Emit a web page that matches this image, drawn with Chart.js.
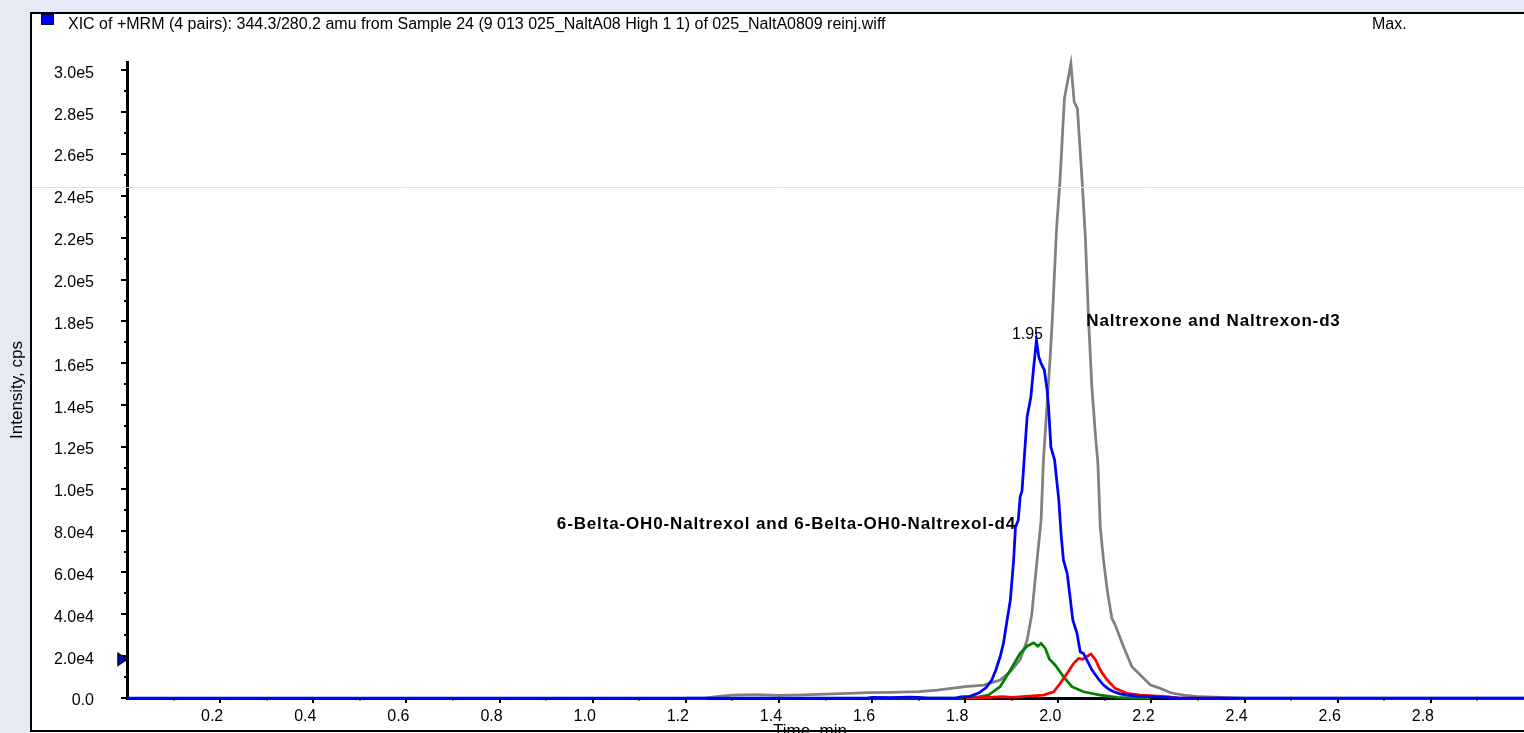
<!DOCTYPE html>
<html>
<head>
<meta charset="utf-8">
<title>XIC of +MRM</title>
<script src="https://cdn.jsdelivr.net/npm/chart.js@4.4.0/dist/chart.umd.min.js"></script>
<style>
  html, body { margin: 0; padding: 0; background: #e7eaf4; }
  canvas { display: block; }
</style>
</head>
<body>
<canvas id="xic" width="1524" height="733"></canvas>
<script>
// retention time (min) / intensity (cps) for the four MRM pairs
const naltrexolTime = [0.00, 0.50, 1.00, 1.50, 1.59, 1.60, 1.64, 1.68, 1.70, 1.72,
  1.78, 1.79, 1.81, 1.83, 1.845, 1.857, 1.866, 1.875, 1.882, 1.890,
  1.897, 1.904, 1.908, 1.914, 1.918, 1.922, 1.929, 1.933, 1.941, 1.947,
  1.953, 1.958, 1.963, 1.970, 1.976, 1.979, 1.984, 1.992, 2.001, 2.006,
  2.011, 2.019, 2.026, 2.031, 2.040, 2.047, 2.054, 2.065, 2.072, 2.080,
  2.088, 2.097, 2.108, 2.119, 2.133, 2.148, 2.170, 2.198, 2.230, 2.260,
  2.50, 3.00];
const naltrexolCps = [0, 0, 0, 0, 0, 300, 200, 400, 300, 0,
  0, 500, 800, 2500, 5000, 8600, 13500, 19700, 26000, 37300,
  46800, 65900, 81800, 85000, 96200, 99000, 121700, 134400, 143900, 158000,
  171000, 163000, 159900, 156700, 147100, 139000, 120000, 113700, 94600, 78000,
  65900, 59600, 46800, 37300, 31000, 22100, 21300, 16600, 13500, 11000,
  8500, 6200, 4300, 3000, 2000, 1400, 900, 600, 300, 0,
  0, 0];

const naltrexoneTime = [1.20, 1.24, 1.27, 1.30, 1.35, 1.40, 1.45, 1.50, 1.55, 1.59,
  1.64, 1.70, 1.74, 1.77, 1.80, 1.84, 1.875, 1.897, 1.918, 1.933,
  1.943, 1.953, 1.963, 1.968, 1.976, 1.983, 1.987, 1.996, 2.004, 2.013,
  2.027, 2.034, 2.041, 2.051, 2.058, 2.065, 2.072, 2.080, 2.085, 2.090,
  2.097, 2.105, 2.115, 2.122, 2.140, 2.158, 2.176, 2.198, 2.219, 2.241,
  2.269, 2.305, 2.35, 2.40, 3.00];
const naltrexoneCps = [0, 0, 800, 1400, 1600, 1300, 1500, 1800, 2200, 2600,
  2700, 3000, 3800, 4600, 5400, 6200, 8600, 12600, 18200, 27700,
  40000, 63000, 85000, 113700, 140800, 164700, 180600, 223600, 249000, 286500,
  303200, 284900, 281700, 247400, 220400, 180600, 148700, 124800, 112100, 81800,
  66000, 51600, 38000, 35000, 24500, 15000, 11000, 6200, 4600, 2500,
  1400, 600, 300, 0, 0];

const naltrexolD4Time = [1.59, 1.80, 1.83, 1.85, 1.875, 1.897, 1.918, 1.933, 1.947, 1.956,
  1.963, 1.972, 1.981, 1.993, 2.011, 2.029, 2.054, 2.090, 2.126, 2.16, 2.20];
const naltrexolD4Cps = [0, 0, 500, 1400, 5400, 13400, 21300, 24800, 26400, 24800,
  26100, 23700, 18500, 15800, 10200, 5400, 3000, 1400, 300, 0, 0];

const naltrexoneD3Time = [1.80, 1.85, 1.88, 1.90, 1.93, 1.968, 1.990, 2.004, 2.019, 2.033,
  2.044, 2.052, 2.063, 2.070, 2.080, 2.090, 2.105, 2.122, 2.148, 2.176, 2.233, 2.26, 2.35];
const naltrexoneD3Cps = [0, 300, 600, 300, 800, 1400, 3000, 7000, 11800, 16600,
  19000, 18500, 20100, 21000, 18200, 13400, 8600, 4600, 2200, 1400, 600, 0, 0];

// axis ticks
const xMajorTicks = [0.2, 0.4, 0.6, 0.8, 1.0, 1.2, 1.4, 1.6, 1.8, 2.0, 2.2, 2.4, 2.6, 2.8];
const xMinorTicks = [0.1, 0.3, 0.5, 0.7, 0.9, 1.1, 1.3, 1.5, 1.7, 1.9, 2.1, 2.3, 2.5, 2.7, 2.9];
const yMajorTicks = [0, 20000, 40000, 60000, 80000, 100000, 120000, 140000, 160000,
  180000, 200000, 220000, 240000, 260000, 280000, 300000];
const yMinorTicks = [10000, 30000, 50000, 70000, 90000, 110000, 130000, 150000,
  170000, 190000, 210000, 230000, 250000, 270000, 290000];

const titleText = 'XIC of +MRM (4 pairs): 344.3/280.2 amu from Sample 24 (9 013 025_NaltA08 High 1 1) of 025_NaltA0809 reinj.wiff';
const naltrexoneLabel = 'Naltrexone and Naltrexon-d3';
const naltrexolLabel = '6-Belta-OH0-Naltrexol and 6-Belta-OH0-Naltrexol-d4';
const thresholdLevel = 18500;

const FONT = '"Liberation Sans", Arial, sans-serif';

function points(t, v) {
  return t.map((x, i) => ({ x: x, y: v[i] }));
}

// background, panel frame, header text, tick marks and peak annotations
const decor = {
  id: 'decor',
  beforeDraw(chart) {
    const ctx = chart.ctx;
    ctx.save();
    ctx.fillStyle = '#e7eaf4';
    ctx.fillRect(0, 0, chart.width, chart.height);
    ctx.fillStyle = '#ffffff';
    ctx.fillRect(31, 13, chart.width - 31, chart.height - 13);
    ctx.restore();
  },
  afterDraw(chart) {
    const { ctx, scales: { x, y }, chartArea } = chart;
    ctx.save();

    // tick marks, long for labelled ticks
    ctx.strokeStyle = '#000';
    ctx.lineWidth = 2;
    ctx.beginPath();
    xMajorTicks.forEach(v => {
      const px = Math.round(x.getPixelForValue(v));
      ctx.moveTo(px, chartArea.bottom); ctx.lineTo(px, chartArea.bottom + 5);
    });
    xMinorTicks.forEach(v => {
      const px = Math.round(x.getPixelForValue(v));
      ctx.moveTo(px, chartArea.bottom); ctx.lineTo(px, chartArea.bottom + 2.5);
    });
    yMajorTicks.forEach(v => {
      const py = Math.round(y.getPixelForValue(v));
      ctx.moveTo(chartArea.left - 6, py); ctx.lineTo(chartArea.left, py);
    });
    yMinorTicks.forEach(v => {
      const py = Math.round(y.getPixelForValue(v));
      ctx.moveTo(chartArea.left - 3, py); ctx.lineTo(chartArea.left, py);
    });
    ctx.stroke();

    // threshold marker on the intensity axis
    const ty = y.getPixelForValue(thresholdLevel);
    ctx.beginPath();
    ctx.moveTo(chartArea.left - 9, ty - 6);
    ctx.lineTo(chartArea.left, ty);
    ctx.lineTo(chartArea.left - 9, ty + 6);
    ctx.closePath();
    ctx.fillStyle = '#0000ff';
    ctx.fill();
    ctx.lineWidth = 1.5;
    ctx.strokeStyle = '#000';
    ctx.stroke();

    // faint separator line
    ctx.strokeStyle = '#dcdff0';
    ctx.lineWidth = 1;
    ctx.beginPath();
    ctx.moveTo(31, 187.5); ctx.lineTo(chart.width, 187.5);
    ctx.stroke();

    // header
    ctx.fillStyle = '#0000ff';
    ctx.fillRect(41, 14, 13, 11);
    ctx.strokeStyle = '#000066';
    ctx.lineWidth = 1;
    ctx.strokeRect(41.5, 14.5, 12, 10);
    ctx.fillStyle = '#000';
    ctx.font = '16px ' + FONT;
    ctx.textBaseline = 'middle';
    ctx.textAlign = 'left';
    ctx.fillText(titleText, 68, 25);
    ctx.fillText('Max.', 1372, 25);

    // axis titles
    ctx.font = '17px ' + FONT;
    ctx.textAlign = 'center';
    ctx.fillText('Time, min', 810, 731);
    ctx.save();
    ctx.translate(17, 390);
    ctx.rotate(-Math.PI / 2);
    ctx.fillText('Intensity, cps', 0, 0);
    ctx.restore();

    // apex retention time of the main trace
    ctx.font = '16px ' + FONT;
    let k = 0;
    naltrexolCps.forEach((v, i) => { if (v > naltrexolCps[k]) k = i; });
    const apx = x.getPixelForValue(naltrexolTime[k]);
    const apy = y.getPixelForValue(naltrexolCps[k]);
    ctx.fillText(naltrexolTime[k].toFixed(2), apx - 9, apy - 6);

    // compound labels
    ctx.font = 'bold 17px ' + FONT;
    ctx.letterSpacing = '0.85px';
    ctx.textAlign = 'left';
    ctx.fillText(naltrexoneLabel, x.getPixelForValue(2.06), y.getPixelForValue(180000));
    ctx.textAlign = 'right';
    ctx.fillText(naltrexolLabel, x.getPixelForValue(1.909), y.getPixelForValue(83000));
    ctx.letterSpacing = '0px';

    // panel frame
    ctx.strokeStyle = '#000';
    ctx.lineWidth = 2;
    ctx.strokeRect(31, 13, chart.width + 10, chart.height - 15);
    ctx.restore();
  }
};

function trace(data, color) {
  return {
    data: data,
    borderColor: color,
    borderWidth: 2.75,
    pointRadius: 0,
    tension: 0,
    fill: false,
    clip: false
  };
}

const ctx = document.getElementById('xic').getContext('2d');
new Chart(ctx, {
  type: 'line',
  data: {
    datasets: [
      trace(points(naltrexolTime, naltrexolCps), '#0000ff'),
      trace(points(naltrexoneD3Time, naltrexoneD3Cps), '#ff0000'),
      trace(points(naltrexolD4Time, naltrexolD4Cps), '#008000'),
      trace(points(naltrexoneTime, naltrexoneCps), '#808080')
    ]
  },
  options: {
    responsive: false,
    animation: false,
    layout: { padding: { left: 0, top: 62, right: 0, bottom: 0 } },
    plugins: {
      legend: { display: false },
      tooltip: { enabled: false }
    },
    scales: {
      x: {
        type: 'linear',
        min: 0,
        max: 3.0,
        afterFit(scale) {
          scale.height = 35;
          scale.paddingLeft = 0;
          scale.paddingRight = 0;
        },
        afterBuildTicks(scale) {
          scale.ticks = xMajorTicks.map(v => ({ value: v }));
        },
        grid: { display: false, drawTicks: false },
        border: { display: true, color: '#000', width: 3 },
        ticks: {
          autoSkip: false,
          maxRotation: 0,
          padding: 9,
          labelOffset: -8,
          color: '#000',
          font: { family: FONT, size: 16 },
          callback: v => v.toFixed(1)
        }
      },
      y: {
        min: 0,
        max: 304000,
        afterFit(scale) {
          // keep the label gap from eating into the plot height
          scale.width = 127;
          scale.paddingTop = 0;
          scale.paddingBottom = 0;
        },
        afterBuildTicks(scale) {
          scale.ticks = yMajorTicks.map(v => ({ value: v }));
        },
        grid: { display: false, drawTicks: false },
        border: { display: true, color: '#000', width: 3 },
        ticks: {
          autoSkip: false,
          padding: 33,
          labelOffset: 3,
          color: '#000',
          font: { family: FONT, size: 16 },
          callback: v => v === 0 ? '0.0' : v.toExponential(1).replace('+', '')
        }
      }
    }
  },
  plugins: [decor]
});
</script>
</body>
</html>
